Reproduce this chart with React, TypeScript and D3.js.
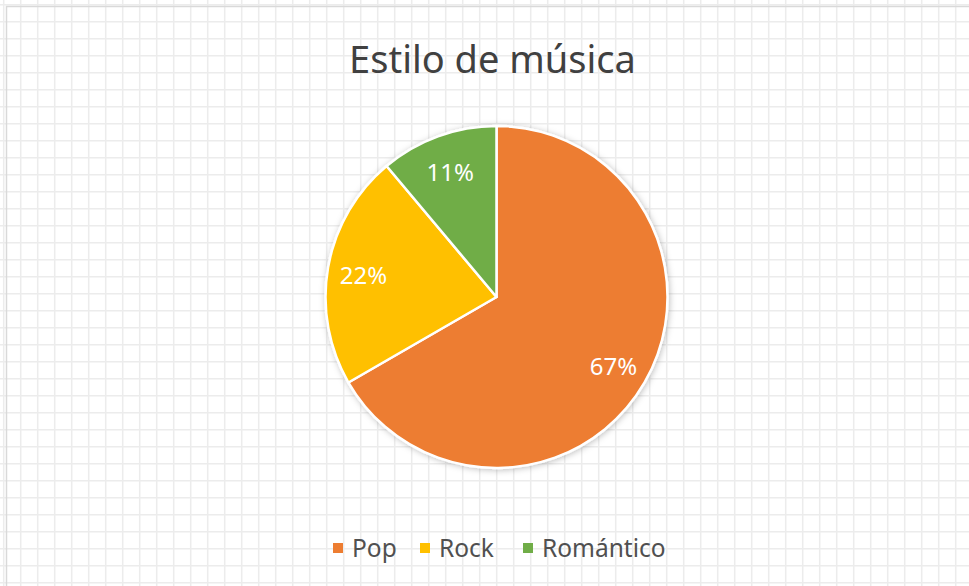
import React from 'react';
import * as d3 from 'd3';

const title = 'Estilo de música';
const categories = ['Pop', 'Rock', 'Romántico'];
const values = [6, 2, 1];
const colors = ['#ED7D31', '#FFC000', '#70AD47'];

const W = 969;
const H = 586;

export default function App() {
  const cx = 496.5;
  const cy = 297;
  const r = 171;

  const total = d3.sum(values);
  const pie = d3.pie<number>().sort(null).value((d) => d)(values);
  const arc = d3.arc<d3.PieArcDatum<number>>().innerRadius(0).outerRadius(r);
  const labelArc = d3.arc<d3.PieArcDatum<number>>().innerRadius(r * 0.79).outerRadius(r * 0.79);
  const fmt = d3.format('.0%');

  // spreadsheet gridlines behind the transparent chart
  const vLines = d3.range(3.7, W, 17);
  const hLines = d3.range(4.7, H, 17);

  // legend layout
  const legendX = [333, 420, 523];

  return (
    <svg width={W} height={H} style={{ position: 'absolute', left: 0, top: 0, background: '#fff' }}
      fontFamily="'Noto Sans', 'Open Sans', sans-serif">
      <defs>
        <filter id="shadow" x="-20%" y="-20%" width="140%" height="140%">
          <feDropShadow dx="1" dy="1" stdDeviation="3" floodColor="#000" floodOpacity="0.25" />
        </filter>
      </defs>
      <g stroke="#ececec" strokeWidth={1.5}>
        {vLines.map((x) => <line key={'v' + x} x1={x} x2={x} y1={0} y2={H} />)}
        {hLines.map((y) => <line key={'h' + y} x1={0} x2={W} y1={y} y2={y} />)}
      </g>
      <rect x={6.5} y={6.5} width={W + 10} height={H + 10} fill="none" stroke="#d9d9d9" strokeWidth={1.5} />

      <text x={492.5} y={73} textAnchor="middle" fontSize={38} fill="#404040">{title}</text>

      <g transform={`translate(${cx},${cy})`}>
        <g filter="url(#shadow)">
          {pie.map((p, i) => (
            <path key={i} d={arc(p) ?? ''} fill={colors[i]} stroke="#fff" strokeWidth={2.5} strokeLinejoin="round" />
          ))}
        </g>
        {pie.map((p, i) => {
          const [x, y] = labelArc.centroid(p);
          return (
            <text key={'l' + i} x={x} y={y} dy="0.45em" textAnchor="middle" fontSize={24} fill="#fff">
              {fmt(values[i] / total)}
            </text>
          );
        })}
      </g>

      <g>
        {categories.map((c, i) => (
          <g key={c} transform={`translate(${legendX[i]},548)`}>
            <rect x={0} y={-5} width={10} height={10} fill={colors[i]} />
            <text x={19} y={0} dy="0.35em" fontSize={24.5} fill="#505050">{c}</text>
          </g>
        ))}
      </g>
    </svg>
  );
}
